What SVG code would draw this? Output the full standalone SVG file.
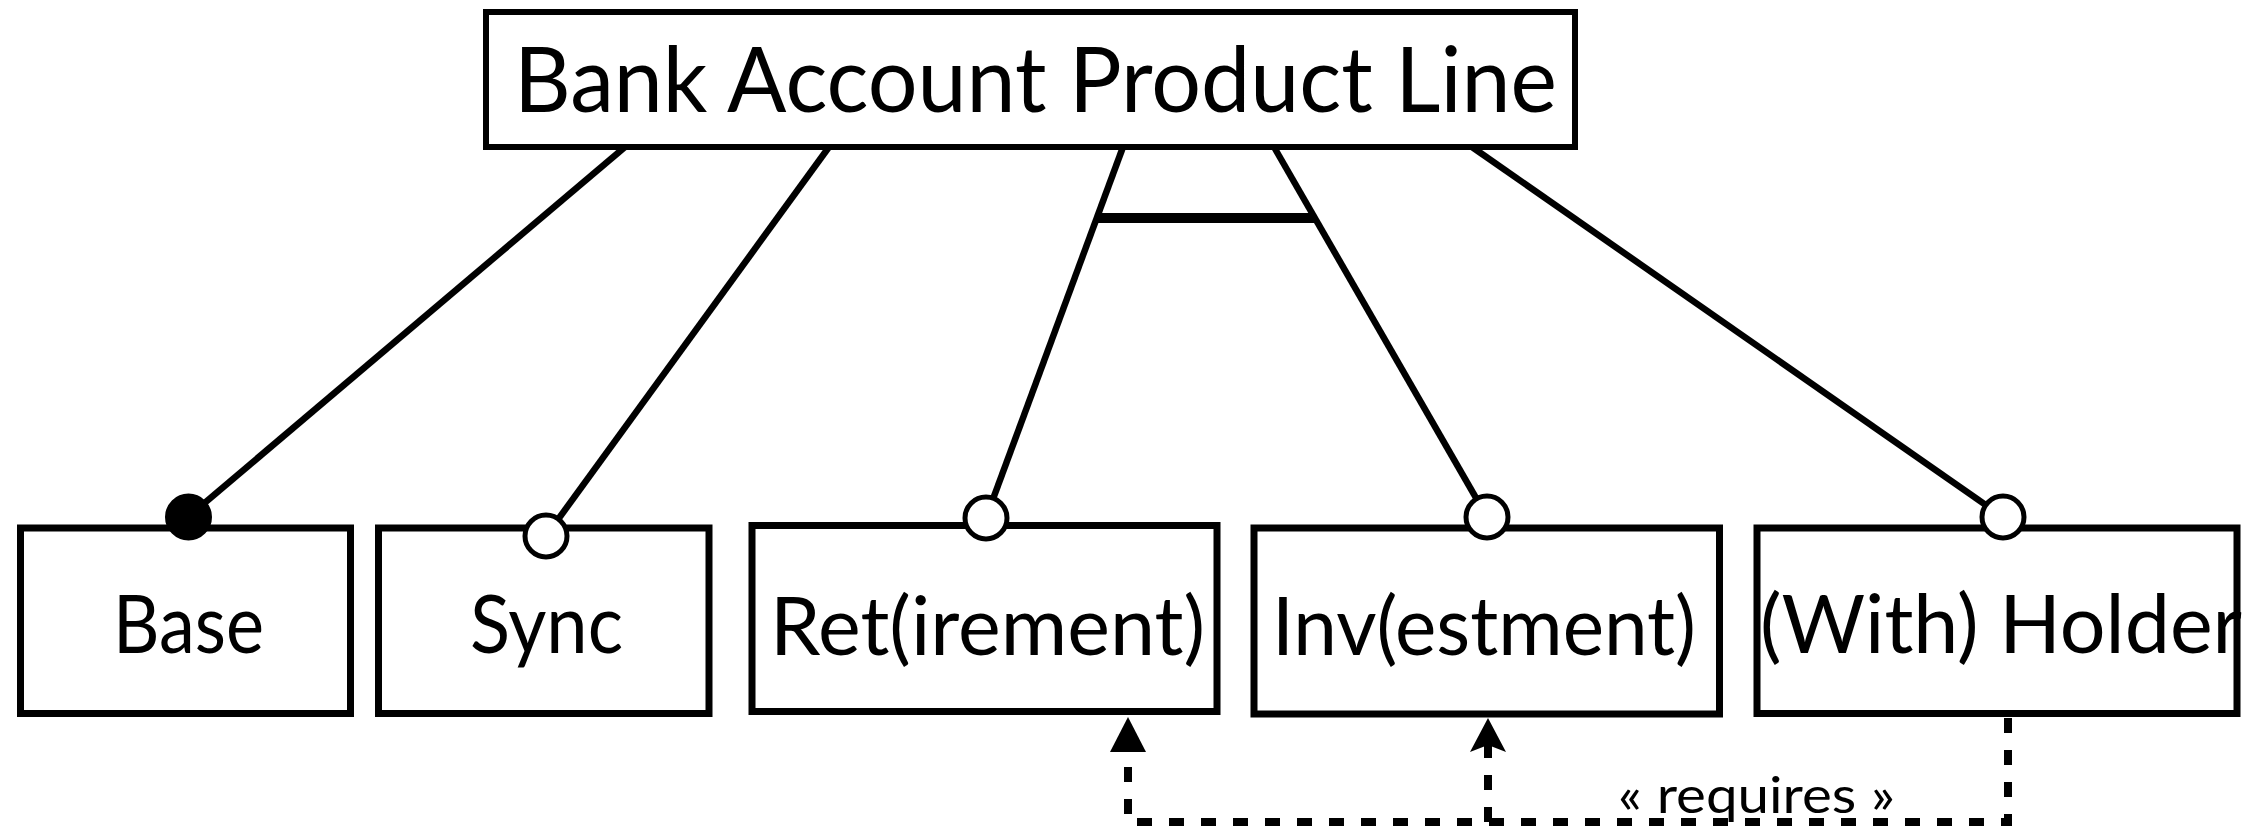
<svg xmlns="http://www.w3.org/2000/svg" width="2254" height="829" viewBox="0 0 2254 829">
<defs>
<style>
.box{fill:#fff;stroke:#000;stroke-width:7}
.lbl{font-family:Lato,"Open Sans","Liberation Sans",sans-serif;font-size:82px;fill:#000;text-anchor:middle}
.title{font-size:91px}
.edge{stroke:#000;stroke-width:6.5;fill:none}
.dash{stroke:#000;stroke-width:8;fill:none;stroke-dasharray:15 17}
.opt{fill:#fff;stroke:#000;stroke-width:5}
.man{fill:#000;stroke:#000;stroke-width:5}
.req{font-family:Lato,"Open Sans","Liberation Sans",sans-serif;font-size:50px;fill:#000;text-anchor:middle}
</style>
</defs>
<rect width="2254" height="829" fill="#fff"/>
<g id="connectors">
<line class="edge" x1="625" y1="147" x2="188" y2="517"/>
<line class="edge" x1="829" y1="147" x2="546" y2="536"/>
<line class="edge" x1="1123" y1="147" x2="986" y2="518"/>
<line class="edge" x1="1274" y1="147" x2="1487" y2="517"/>
<line class="edge" x1="1472" y1="147" x2="2003" y2="517"/>
<line stroke="#000" stroke-width="10" x1="1097" y1="218" x2="1315" y2="218"/>
<path class="dash" d="M2008,718 V822 H1128 V752"/>
<path class="dash" d="M1488,822 V752"/>
<line stroke="#000" stroke-width="8" x1="1488" y1="742" x2="1488" y2="756"/>
<polygon points="1128,717 1110,752 1146,752" fill="#000"/>
<polygon points="1488,718 1470,752 1488,745 1506,752" fill="#000"/>
<text class="req" x="1756.5" y="813" textLength="277" lengthAdjust="spacingAndGlyphs">« requires »</text>
</g>
<g id="root">
<rect class="box" x="486" y="12" width="1089" height="135" style="stroke-width:6"/>
<text class="lbl title" x="1035.5" y="112" textLength="1043" lengthAdjust="spacingAndGlyphs">Bank Account Product Line</text>
</g>
<g id="base">
<rect class="box" x="20.5" y="528" width="330" height="185.5"/>
<text class="lbl" x="188.5" y="653" textLength="151" lengthAdjust="spacingAndGlyphs">Base</text>
<circle class="man" cx="188.5" cy="517" r="21"/>
</g>
<g id="sync">
<rect class="box" x="378.5" y="528" width="330.5" height="185.5"/>
<text class="lbl" x="546.5" y="653" textLength="153" lengthAdjust="spacingAndGlyphs">Sync</text>
<circle class="opt" cx="546" cy="536" r="21"/>
</g>
<g id="retirement">
<rect class="box" x="752" y="525.5" width="465" height="186"/>
<text class="lbl" x="987.5" y="655" textLength="435" lengthAdjust="spacingAndGlyphs">Ret(irement)</text>
<circle class="opt" cx="986" cy="518" r="21"/>
</g>
<g id="investment">
<rect class="box" x="1254" y="528" width="465.5" height="186"/>
<text class="lbl" x="1484" y="655" textLength="424" lengthAdjust="spacingAndGlyphs">Inv(estment)</text>
<circle class="opt" cx="1487" cy="517" r="21"/>
</g>
<g id="holder">
<rect class="box" x="1757" y="528" width="480" height="185.5"/>
<text class="lbl" x="2001" y="653" textLength="482" lengthAdjust="spacingAndGlyphs">(With) Holder</text>
<circle class="opt" cx="2003" cy="517" r="21"/>
</g>
</svg>
